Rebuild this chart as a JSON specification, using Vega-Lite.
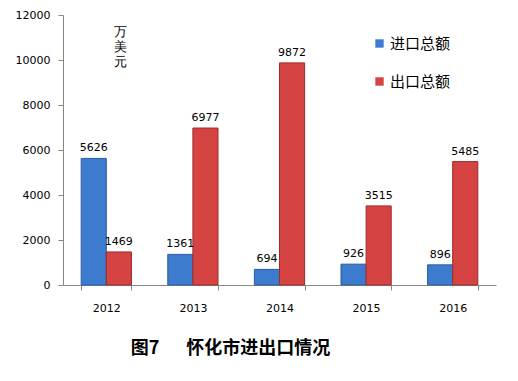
{
  "$schema": "https://vega.github.io/schema/vega-lite/v6.json",
  "autosize": "none",
  "width": 433,
  "height": 270,
  "padding": {"left": 63, "top": 15, "right": 22, "bottom": 96},
  "background": "white",
  "config": {"view": {"stroke": null}, "font": "DejaVu Sans"},
  "data": {"values": [
    {"year": "2012", "type": "进口总额", "value": 5626},
    {"year": "2012", "type": "出口总额", "value": 1469},
    {"year": "2013", "type": "进口总额", "value": 1361},
    {"year": "2013", "type": "出口总额", "value": 6977},
    {"year": "2014", "type": "进口总额", "value": 694},
    {"year": "2014", "type": "出口总额", "value": 9872},
    {"year": "2015", "type": "进口总额", "value": 926},
    {"year": "2015", "type": "出口总额", "value": 3515},
    {"year": "2016", "type": "进口总额", "value": 896},
    {"year": "2016", "type": "出口总额", "value": 5485}
  ]},
  "encoding": {
    "x": {"field": "year", "type": "nominal",
      "scale": {"paddingInner": 0.42, "paddingOuter": 0.21},
      "axis": {"labelAngle": 0, "domainColor": "#888888", "tickColor": "#888888", "tickBand": "extent", "tickSize": 5,
        "labelFontSize": 11, "labelColor": "#000000", "labelPadding": 12,
        "title": "图7\u3000\u2002怀化市进出口情况", "titleFontSize": 18, "titleFontWeight": "bold", "titleColor": "#000000",
        "titleFont": "Noto Sans CJK SC", "titleX": 167, "titleY": 63, "titleAlign": "center", "titleBaseline": "middle", "titleAnchor": null}},
    "xOffset": {"field": "type", "type": "nominal", "sort": ["进口总额", "出口总额"]},
    "y": {"field": "value", "type": "quantitative",
      "scale": {"domain": [0, 12000], "nice": false},
      "axis": {"values": [0, 2000, 4000, 6000, 8000, 10000, 12000], "format": "d", "grid": false,
        "domainColor": "#888888", "tickColor": "#888888", "tickSize": 5, "labelPadding": 8,
        "labelFontSize": 11, "labelColor": "#000000",
        "title": ["万", "美", "元"], "titleAngle": 0, "titleX": 57, "titleY": 10, "titleAlign": "center",
        "titleBaseline": "top", "titleFontSize": 13, "titleFontWeight": "normal", "titleLineHeight": 15,
        "titleFont": "Liberation Sans", "titleColor": "#000000"}}
  },
  "layer": [
    {
      "mark": {"type": "bar", "strokeWidth": 1},
      "encoding": {
        "color": {"field": "type", "type": "nominal", "sort": ["进口总额", "出口总额"],
          "scale": {"domain": ["进口总额", "出口总额"], "range": ["#3d7bcf", "#d64343"]},
          "legend": {"orient": "none", "legendX": 309, "legendY": 21, "title": null, "symbolType": "square",
            "symbolSize": 70, "symbolStrokeWidth": 0, "labelFontSize": 15, "labelFont": "Noto Sans CJK SC",
            "labelColor": "#000000", "rowPadding": 22, "labelOffset": 3}},
        "stroke": {"field": "type", "type": "nominal",
          "scale": {"domain": ["进口总额", "出口总额"], "range": ["#2b5c9e", "#9e2a2a"]}, "legend": null}
      }
    },
    {
      "mark": {"type": "text", "dy": -10, "fontSize": 11, "color": "#000000"},
      "encoding": {"text": {"field": "value", "type": "quantitative", "format": "d"}}
    }
  ]
}
